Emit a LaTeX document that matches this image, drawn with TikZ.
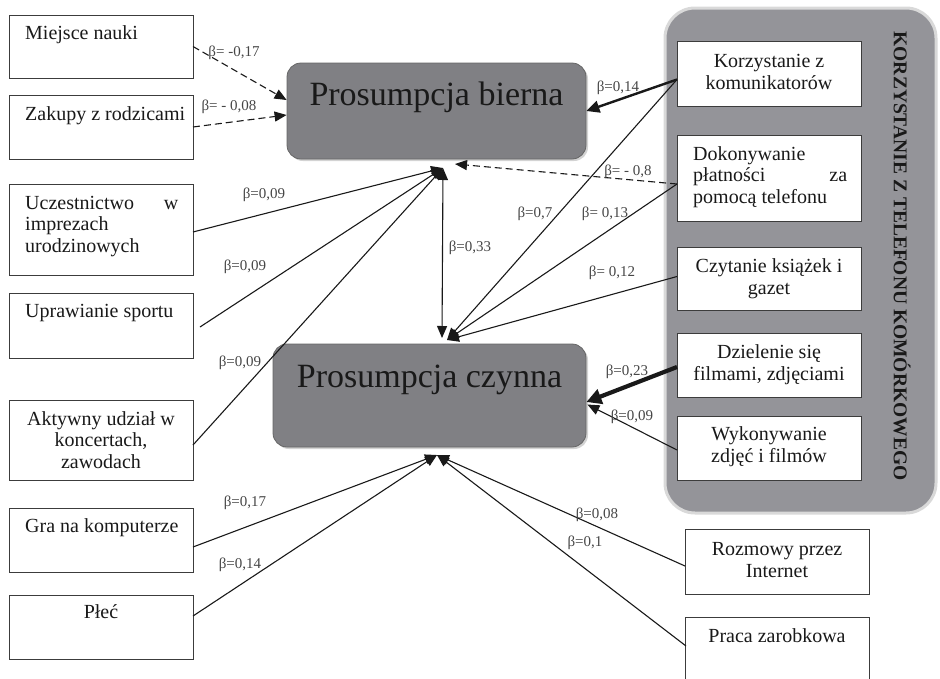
\documentclass[tikz,border=0pt]{standalone}
\usepackage{fontspec}
\setmainfont{Liberation Serif}
\usetikzlibrary{arrows.meta,shadows}
\definecolor{ln}{RGB}{25,25,25}
\definecolor{mainfill}{RGB}{128,128,132}
\definecolor{panelfill}{RGB}{148,148,153}
\definecolor{lbl}{RGB}{70,70,70}
\tikzset{
  box/.style={draw=ln!85, line width=1pt, fill=white, inner sep=0pt, outer sep=0pt},
  bt/.style={font=\fontsize{20}{21.5}\selectfont, inner sep=0pt, text=ln},
  mainbox/.style={draw=black!60, line width=0.8pt, fill=mainfill, rounded corners=14pt, inner sep=0pt,
    drop shadow={shadow xshift=2pt, shadow yshift=-2pt, opacity=0.35}},
  maintxt/.style={font=\fontsize{34}{36}\selectfont, inner sep=0pt, text=black!90},
  lab/.style={font=\fontsize{15}{16}\selectfont, text=lbl, inner sep=0pt},
  arr/.style={draw=ln, line width=1.1pt, -{Triangle[length=12pt,width=10pt]}},
  darr/.style={arr, dash pattern=on 7pt off 4pt},
  thickarr/.style={draw=ln, line width=2.4pt, -{Triangle[length=13pt,width=12pt]}},
  thickerarr/.style={draw=ln, line width=4.2pt, -{Triangle[length=15pt,width=15pt]}},
}
\begin{document}
\begin{tikzpicture}[x=1pt,y=-1pt]
\useasboundingbox (0,0) rectangle (940,678);
\clip (0,0) rectangle (940,678);
% right panel
\node[draw=black!15, line width=3pt, fill=panelfill, rounded corners=30pt, minimum width=271pt, minimum height=505pt, inner sep=0pt] (panel) at (800.5,260.5) {};
\node[font=\bfseries\fontsize{19.5}{20}\selectfont, rotate=-90, text=ln, inner sep=0pt] (title) at (902,256) {KORZYSTANIE Z TELEFONU KOMÓRKOWEGO};
% main nodes
\node[mainbox, minimum width=299pt, minimum height=96pt] (pb) at (436.5,111) {};
\node[maintxt, anchor=base] (pbt) at (436.5,105) {Prosumpcja bierna};
\node[mainbox, minimum width=313pt, minimum height=103pt] (pc) at (429.5,395.5) {};
\node[maintxt, anchor=base] (pct) at (429.5,387) {Prosumpcja czynna};
% left boxes
\node[box, minimum width=184pt, minimum height=63pt] (mn) at (101,46.5) {};
\node[box, minimum width=184pt, minimum height=64pt] (zr) at (101,127) {};
\node[box, minimum width=184pt, minimum height=91pt] (ui) at (101,229.5) {};
\node[box, minimum width=184pt, minimum height=65pt] (us) at (101,325.5) {};
\node[box, minimum width=184pt, minimum height=80pt] (au) at (101,440) {};
\node[box, minimum width=184pt, minimum height=64pt] (gk) at (101,540) {};
\node[box, minimum width=184pt, minimum height=64pt] (pl) at (101,627) {};
\node[bt, anchor=base west] (mnt) at (25,39) {Miejsce nauki};
\node[bt, anchor=base west] (zrt) at (25,120) {Zakupy z rodzicami};
\node[bt, anchor=base west, align=left] (uit) at (25,252) {\makebox[153pt][l]{Uczestnictwo\hfill w}\\imprezach\\urodzinowych};
\node[bt, anchor=base west] (ust) at (25,317) {Uprawianie sportu};
\node[bt, anchor=base, align=center] (aut) at (101,468) {Aktywny udział w\\koncertach,\\zawodach};
\node[bt, anchor=base west] (gkt) at (25,532) {Gra na komputerze};
\node[bt, anchor=base] (plt) at (101,618) {Płeć};
% right boxes
\node[box, minimum width=184pt, minimum height=65pt] (kk) at (769,73.5) {};
\node[box, minimum width=184pt, minimum height=86pt] (dp) at (769,178) {};
\node[box, minimum width=184pt, minimum height=63pt] (cz) at (769,278.5) {};
\node[box, minimum width=184pt, minimum height=64pt] (dz) at (769,365) {};
\node[box, minimum width=184pt, minimum height=64pt] (wz) at (769,448) {};
\node[box, minimum width=184pt, minimum height=65pt] (ri) at (777,561.5) {};
\node[box, minimum width=184pt, minimum height=80pt] (pz) at (777,657) {};
\node[bt, anchor=base, align=center] (kkt) at (769,89) {Korzystanie z\\komunikatorów};
\node[bt, anchor=base west, align=left] (dpt) at (693,203) {Dokonywanie\\\makebox[154pt][l]{płatności\hfill za}\\pomocą telefonu};
\node[bt, anchor=base, align=center] (czt) at (769,294) {Czytanie książek i\\gazet};
\node[bt, anchor=base, align=center] (dzt) at (769,380) {Dzielenie się\\filmami, zdjęciami};
\node[bt, anchor=base, align=center] (wzt) at (769,462) {Wykonywanie\\zdjęć i filmów};
\node[bt, anchor=base, align=center] (rit) at (777,577) {Rozmowy przez\\Internet};
\node[bt, anchor=base] (pzt) at (777,642) {Praca zarobkowa};
% convergence points
\coordinate (pbs) at (443,168);
\coordinate (pbs2) at (455,164);
\coordinate (pcn) at (447,340);
\coordinate (pcn2) at (442,338);
\coordinate (pcs) at (437,455);
% connectors
\draw[darr] (mn.east) -- ([yshift=11pt]pb.west);
\draw[darr] (zr.east) -- ([yshift=-4pt]pb.west);
\draw[arr] ([yshift=-2.5pt]ui.east) -- (pbs);
\draw[arr] ([xshift=7pt,yshift=-1.5pt]us.east) -- (pbs);
\draw[arr] ([yshift=-5pt]au.east) -- (pbs);
\draw[draw=ln, line width=1.1pt, {Triangle[length=12pt,width=10pt]}-{Triangle[length=12pt,width=10pt]}] (pbs) -- (pcn2);
\draw[thickarr] ([yshift=-6pt]kk.west) -- (pb.east);
\draw[arr] ([yshift=-6pt]kk.west) -- (pcn);
\draw[arr] ([yshift=-6pt]dp.west) -- (pcn);
\draw[darr] ([yshift=-6pt]dp.west) -- (pbs2);
\draw[arr] ([yshift=2pt]cz.west) -- (pcn);
\draw[arr] ([yshift=-2pt]wz.west) -- ([xshift=1pt,yshift=-9pt]pc.east);
\draw[thickerarr] ([yshift=-2pt]dz.west) -- ([yshift=-6.5pt]pc.east);
\draw[arr] ([yshift=-7pt]gk.east) -- (pcs);
\draw[arr] ([yshift=11pt]pl.east) -- (pcs);
\draw[arr] ([yshift=-4.5pt]ri.west) -- (pcs);
\draw[arr] ([xshift=1pt,yshift=11pt]pz.west) -- (pcs);
% labels
\node[lab] (l1) at (234,53) {β= -0,17};
\node[lab] (l2) at (229,107) {β= - 0,08};
\node[lab] (l3) at (264,195) {β=0,09};
\node[lab] (l4) at (245,267) {β=0,09};
\node[lab] (l5) at (240,363) {β=0,09};
\node[lab] (l6) at (470,248) {β=0,33};
\node[lab] (l7) at (618,88) {β=0,14};
\node[lab] (l8) at (535,214) {β=0,7};
\node[lab] (l9) at (605,214) {β= 0,13};
\node[lab] (l10) at (628,172) {β= - 0,8};
\node[lab] (l11) at (612,273) {β= 0,12};
\node[lab] (l12) at (627,372) {β=0,23};
\node[lab] (l13) at (632,417) {β=0,09};
\node[lab] (l14) at (245,503) {β=0,17};
\node[lab] (l15) at (240,565) {β=0,14};
\node[lab] (l16) at (597,515) {β=0,08};
\node[lab] (l17) at (585,543) {β=0,1};
\end{tikzpicture}
\end{document}
